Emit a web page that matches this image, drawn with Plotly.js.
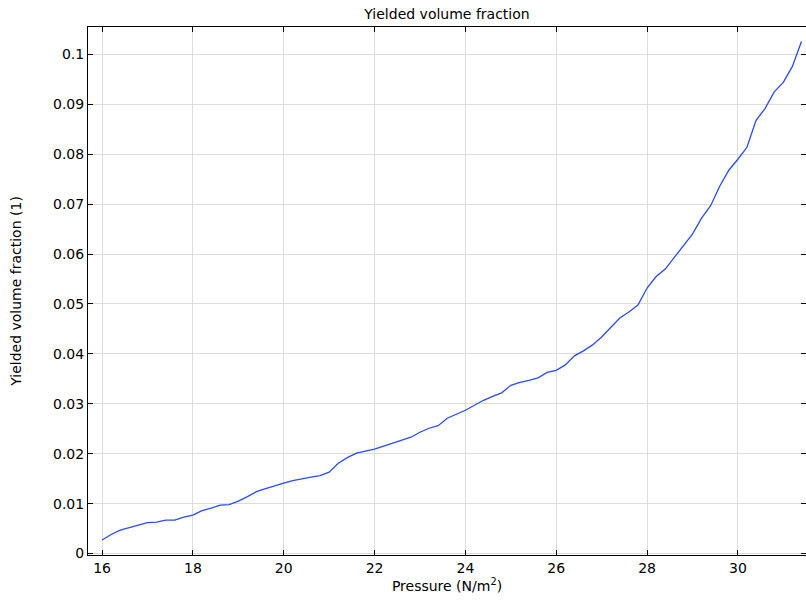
<!DOCTYPE html>
<html>
<head>
<meta charset="utf-8">
<script src="https://cdn.plot.ly/plotly-3.0.1.min.js"></script>
<style>html,body{margin:0;padding:0;background:#fff;}#chart{width:806px;height:600px;}</style>
</head>
<body>
<div id="chart"></div>
<script>
const pressure = [16.0,16.2,16.4,16.6,16.8,17.0,17.2,17.4,17.6,17.8,18.0,18.2,18.4,18.6,18.8,19.0,19.2,19.4,19.6,19.8,
  20.0,20.2,20.4,20.6,20.8,21.0,21.2,21.4,21.6,21.8,22.0,22.2,22.4,22.6,22.8,23.0,23.2,23.4,23.6,23.8,
  24.0,24.2,24.4,24.6,24.8,25.0,25.2,25.4,25.6,25.8,26.0,26.2,26.4,26.6,26.8,27.0,27.2,27.4,27.6,27.8,
  28.0,28.2,28.4,28.6,28.8,29.0,29.2,29.4,29.6,29.8,30.0,30.2,30.4,30.6,30.8,31.0,31.2,31.4];
const yieldedFraction = [0.0027,0.0038,0.0047,0.0052,0.0056,0.0062,0.0063,0.0067,0.0067,0.0073,0.0077,0.0086,0.0091,0.0097,0.0098,0.0105,0.0114,0.0124,0.0130,0.0136,
  0.0141,0.0146,0.0150,0.0153,0.0156,0.0163,0.0181,0.0192,0.0201,0.0205,0.0209,0.0215,0.0221,0.0228,0.0233,0.0243,0.0251,0.0256,0.0271,0.0279,
  0.0287,0.0297,0.0307,0.0315,0.0322,0.0337,0.0343,0.0347,0.0352,0.0363,0.0367,0.0378,0.0396,0.0406,0.0418,0.0434,0.0453,0.0472,0.0484,0.0498,
  0.0532,0.0555,0.0570,0.0594,0.0618,0.0640,0.0672,0.0697,0.0736,0.0768,0.0790,0.0814,0.0868,0.0892,0.0925,0.0944,0.0976,0.1026];

const font = {family: 'DejaVu Sans, sans-serif', size: 14, color: '#000'};
const trace = {x: pressure, y: yieldedFraction, type: 'scatter', mode: 'lines',
  line: {color: '#2a4bf5', width: 1.3}, hoverinfo: 'skip'};
const axisCommon = {showline: true, linecolor: '#000', linewidth: 1, mirror: 'ticks',
  ticks: 'inside', ticklen: 5, tickcolor: '#000', showgrid: true, gridcolor: '#dcdcdc', gridwidth: 1,
  zeroline: false, tickfont: font};
const layout = {
  width: 806, height: 600,
  margin: {l: 88, r: 0, t: 27, b: 45},
  paper_bgcolor: '#fff', plot_bgcolor: '#fff',
  font: font,
  showlegend: false,
  title: {text: 'Yielded volume fraction', font: {family: font.family, size: 14, color: '#000'},
    x: 0.5, xref: 'paper', y: 0.977, yref: 'container', yanchor: 'middle'},
  xaxis: Object.assign({}, axisCommon, {range: [15.69, 31.5], tickvals: [16,18,20,22,24,26,28,30],
    title: {text: 'Pressure (N/m<sup>2</sup>)', font: font, standoff: 6}}),
  yaxis: Object.assign({}, axisCommon, {range: [-0.0003, 0.1055], dtick: 0.01, tick0: 0,
    title: {text: 'Yielded volume fraction (1)', font: font, standoff: 28}})
};
Plotly.newPlot('chart', [trace], layout, {staticPlot: true, displayModeBar: false});
</script>
</body>
</html>
